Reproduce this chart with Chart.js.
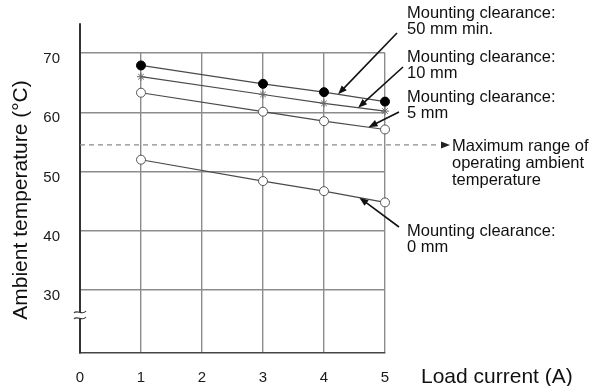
<!DOCTYPE html>
<html>
<head>
<meta charset="utf-8">
<script src="https://cdn.jsdelivr.net/npm/chart.js@4/dist/chart.umd.min.js"></script>
<style>
  html, body { margin: 0; padding: 0; background: #fff; }
  #wrap { width: 604px; height: 386px; position: relative; }
</style>
</head>
<body>
<div id="wrap"><canvas id="chart"></canvas></div>
<script>
// load current (A) where readings were taken
const loadCurrent = [1, 3, 4, 5];

// ambient temperature (°C) per mounting clearance
const clear50 = [67.9, 64.8, 63.4, 61.8];
const clear10 = [66.0, 63.0, 61.5, 60.2];
const clear5 = [63.3, 60.1, 58.5, 57.1];
const clear0 = [52.0, 48.4, 46.7, 44.8];

const xTicks = [0, 1, 2, 3, 4, 5];
const yTicks = [30, 40, 50, 60, 70];
const maxOperating = 54.5;

const FONT = "'Liberation Sans', Arial, Helvetica, sans-serif";

function pts(vals) {
  return loadCurrent.map((x, i) => ({ x: x, y: vals[i] }));
}

// value of a series at an arbitrary load current (straight segments)
function valueAt(vals, x) {
  for (let i = 0; i < loadCurrent.length - 1; i++) {
    const x0 = loadCurrent[i], x1 = loadCurrent[i + 1];
    if (x >= x0 && x <= x1) {
      return vals[i] + (vals[i + 1] - vals[i]) * (x - x0) / (x1 - x0);
    }
  }
  return vals[vals.length - 1];
}

const series = [
  { key: 'c50', vals: clear50, style: 'circle', fill: '#000', border: '#000', r: 4.5 },
  { key: 'c10', vals: clear10, style: 'star', fill: '#666', border: '#666', r: 4 },
  { key: 'c5', vals: clear5, style: 'circle', fill: '#fff', border: '#555', r: 4.5 },
  { key: 'c0', vals: clear0, style: 'circle', fill: '#fff', border: '#555', r: 4.5 }
];

// callout texts and where their leader arrows point
const callouts = [
  { lines: ['Mounting clearance:', '50 mm min.'], ty: 13, vals: clear50, at: 4.23, tail: [397, 33] },
  { lines: ['Mounting clearance:', '10 mm'], ty: 57, vals: clear10, at: 4.56, tail: [403, 67] },
  { lines: ['Mounting clearance:', '5 mm'], ty: 97, vals: clear5, at: 4.73, tail: [399, 112] },
  { lines: ['Mounting clearance:', '0 mm'], ty: 231, vals: clear0, at: 4.58, tail: [399, 227] }
];
const limitText = ['Maximum range of', 'operating ambient', 'temperature'];

function arrow(ctx, x0, y0, x1, y1) {
  const a = Math.atan2(y1 - y0, x1 - x0);
  const len = 9, half = 3.5;
  ctx.beginPath();
  ctx.moveTo(x0, y0);
  ctx.lineTo(x1 - Math.cos(a) * len * 0.8, y1 - Math.sin(a) * len * 0.8);
  ctx.stroke();
  ctx.beginPath();
  ctx.moveTo(x1, y1);
  ctx.lineTo(x1 - Math.cos(a) * len - Math.sin(a) * half, y1 - Math.sin(a) * len + Math.cos(a) * half);
  ctx.lineTo(x1 - Math.cos(a) * len + Math.sin(a) * half, y1 - Math.sin(a) * len - Math.cos(a) * half);
  ctx.closePath();
  ctx.fill();
}

const decorations = {
  id: 'decorations',
  beforeDatasetsDraw(chart) {
    const { ctx, scales: { x, y } } = chart;
    const yl = y.getPixelForValue(maxOperating);
    ctx.save();
    // dashed limit line running past the plot
    ctx.strokeStyle = '#8a8a8a';
    ctx.lineWidth = 1.4;
    ctx.setLineDash([5, 4]);
    ctx.beginPath();
    ctx.moveTo(x.getPixelForValue(0), yl);
    ctx.lineTo(440, yl);
    ctx.stroke();
    ctx.restore();
  },
  afterDraw(chart) {
    const { ctx, scales: { x, y } } = chart;
    const left = x.getPixelForValue(0);
    ctx.save();

    // y axis runs up past the last grid line
    ctx.strokeStyle = '#333';
    ctx.lineWidth = 2;
    ctx.beginPath();
    ctx.moveTo(left, y.getPixelForValue(70));
    ctx.lineTo(left, y.getPixelForValue(75));
    ctx.stroke();

    // axis break mark
    const yb = 315;
    ctx.fillStyle = '#fff';
    ctx.fillRect(left - 3, yb - 3, 6, 6);
    ctx.strokeStyle = '#333';
    ctx.lineWidth = 1.2;
    [yb - 3, yb + 3].forEach(v => {
      ctx.beginPath();
      ctx.moveTo(left - 6, v + 1);
      ctx.bezierCurveTo(left - 3, v - 3, left + 2, v + 4, left + 6, v - 1);
      ctx.stroke();
    });

    // arrowhead of the limit line
    const yl = y.getPixelForValue(maxOperating);
    ctx.fillStyle = '#222';
    ctx.beginPath();
    ctx.moveTo(450, yl);
    ctx.lineTo(441, yl - 3.5);
    ctx.lineTo(441, yl + 3.5);
    ctx.closePath();
    ctx.fill();

    // leader arrows
    ctx.strokeStyle = '#111';
    ctx.fillStyle = '#111';
    ctx.lineWidth = 1.6;
    callouts.forEach(c => {
      const tx = x.getPixelForValue(c.at);
      const ty = y.getPixelForValue(valueAt(c.vals, c.at));
      arrow(ctx, c.tail[0], c.tail[1], tx, ty);
    });

    // callout texts
    ctx.fillStyle = '#111';
    ctx.font = '16.5px ' + FONT;
    ctx.textAlign = 'left';
    ctx.textBaseline = 'middle';
    callouts.forEach(c => {
      c.lines.forEach((t, i) => ctx.fillText(t, 407, c.ty + i * 16.5));
    });
    limitText.forEach((t, i) => ctx.fillText(t, 452, 146 + i * 17));

    // axis titles
    ctx.font = '21px ' + FONT;
    ctx.fillText('Load current (A)', 421, 377);
    ctx.translate(21, 200);
    ctx.rotate(-Math.PI / 2);
    ctx.textAlign = 'center';
    ctx.fillText('Ambient temperature (\u00B0C)', 0, 0);
    ctx.restore();
  }
};

new Chart(document.getElementById('chart'), {
  type: 'line',
  data: {
    datasets: series.map(s => ({
      label: s.key,
      data: pts(s.vals),
      borderColor: '#4a4a4a',
      borderWidth: 1.2,
      pointStyle: s.style,
      pointRadius: s.r,
      pointBackgroundColor: s.fill,
      pointBorderColor: s.border,
      pointBorderWidth: 1,
      tension: 0,
      clip: false
    }))
  },
  options: {
    responsive: true,
    maintainAspectRatio: false,
    animation: false,
    events: [],
    layout: { padding: { top: 53, right: 219, left: 0, bottom: 0 } },
    plugins: { legend: { display: false }, tooltip: { enabled: false } },
    scales: {
      x: {
        type: 'linear',
        min: 0,
        max: 5,
        afterBuildTicks: s => { s.ticks = xTicks.map(v => ({ value: v })); },
        afterFit: s => { s.height = 33; },
        grid: { color: '#8c8c8c', lineWidth: 1.4, drawTicks: false },
        border: { color: '#444', width: 1.6 },
        ticks: { color: '#1a1a1a', padding: 16, font: { family: FONT, size: 15 } }
      },
      y: {
        min: 19.4,
        max: 70,
        afterBuildTicks: s => { s.ticks = yTicks.map(v => ({ value: v })); },
        afterFit: s => { s.width = 80; },
        grid: { color: '#8c8c8c', lineWidth: 1.4, drawTicks: false },
        border: { color: '#333', width: 2 },
        ticks: { color: '#1a1a1a', padding: 20, labelOffset: 6, font: { family: FONT, size: 15 } }
      }
    }
  },
  plugins: [decorations]
});
</script>
</body>
</html>
